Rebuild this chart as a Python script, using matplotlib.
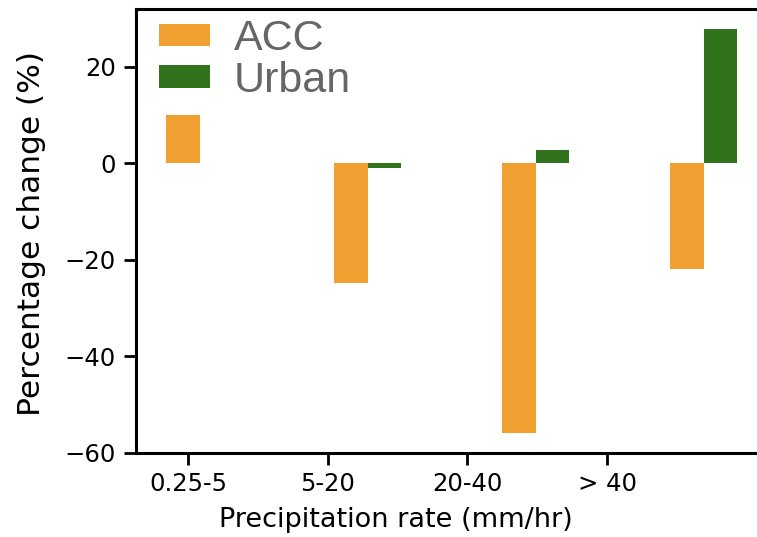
#!/usr/bin/env python3
import numpy as np
import matplotlib
matplotlib.use("Agg")
import matplotlib.pyplot as plt

categories = ["0.25-5", "5-20", "20-40", "> 40"]
acc = [10.0, -24.7, -55.8, -21.9]
urban = [0.0, -0.9, 2.8, 27.9]
tick_pos = [-0.068, 0.765, 1.592, 2.426]

ORANGE = "#f0a030"
GREEN = "#31731c"

fig = plt.figure(figsize=(7.57, 5.37), dpi=100)
ax = fig.add_axes([136/757, 1 - 453/537, 1 - 136/757, (453 - 9)/537])

x = np.arange(len(categories))
w = 0.2
ax.bar(x - w/2, acc, w, color=ORANGE, label="ACC")
ax.bar(x + w/2, urban, w, color=GREEN, label="Urban")

ax.set_xlim(-0.378, 3.318)
ax.set_ylim(-60, 32)
ax.set_yticks([-60, -40, -20, 0, 20])
ax.set_yticklabels(["\u221260", "\u221240", "\u221220", "0", "20"])
ax.set_xticks(tick_pos)
ax.set_xticklabels(categories)
ax.tick_params(labelsize=17.5, width=2, length=8.5)
ax.tick_params(axis="x", pad=5)
ax.tick_params(axis="y", pad=6)

for s in ["left", "bottom", "top"]:
    ax.spines[s].set_linewidth(2.2)
ax.spines["right"].set_visible(False)

ax.set_xlabel("Precipitation rate (mm/hr)", fontsize=19.5)
ax.xaxis.set_label_coords(0.4187, -0.121)
ax.xaxis.label.set_va("top")
ax.set_ylabel("Percentage change (%)", fontsize=22.5)
ax.yaxis.set_label_coords(-0.145, 0.495)

leg = ax.legend(loc="upper left", frameon=False, prop={"family": "Liberation Sans", "size": 31},
                labelcolor="#666666", handlelength=1.2, handleheight=0.42,
                labelspacing=0.04, handletextpad=0.55, borderaxespad=0.2,
                bbox_to_anchor=(-0.005, 1.035))

fig.savefig("out.png", dpi=100)
